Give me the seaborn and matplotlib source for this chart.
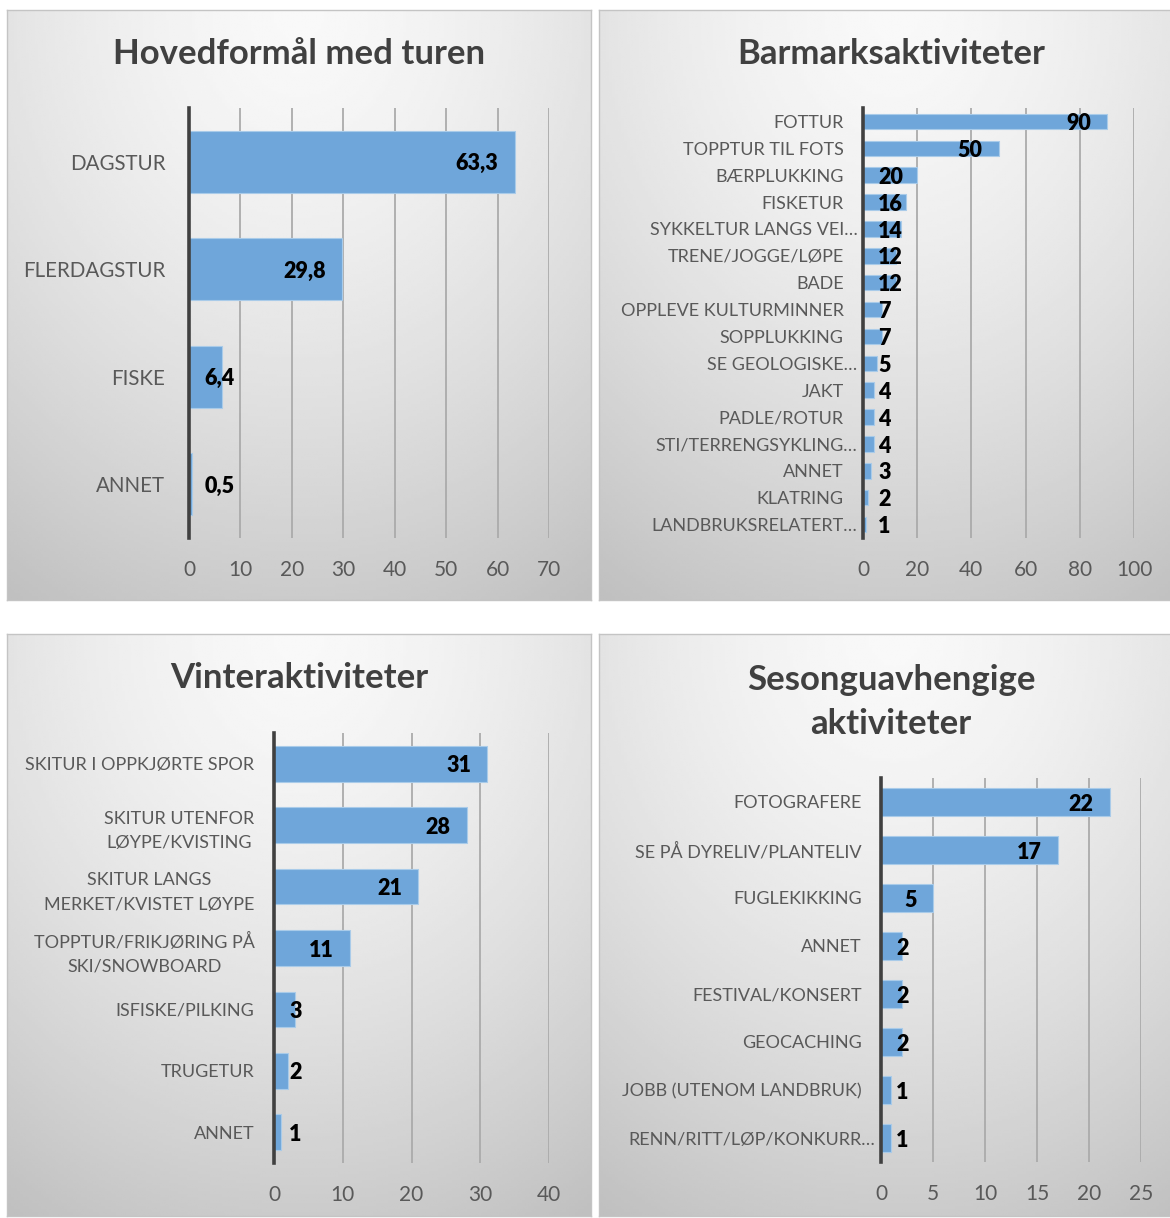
import numpy as np
import pandas as pd
import matplotlib
matplotlib.use("Agg")
import matplotlib.pyplot as plt
import matplotlib.transforms as mtransforms
import seaborn as sns

# ============================================================================
# DATA
# ============================================================================

hoved_cats = ["DAGSTUR", "FLERDAGSTUR", "FISKE", "ANNET"]
hoved_vals = [63.3, 29.8, 6.4, 0.5]

barmark_cats = ["FOTTUR", "TOPPTUR TIL FOTS", "BÆRPLUKKING", "FISKETUR",
                "SYKKELTUR LANGS VEI…", "TRENE/JOGGE/LØPE", "BADE",
                "OPPLEVE KULTURMINNER", "SOPPLUKKING", "SE GEOLOGISKE…",
                "JAKT", "PADLE/ROTUR", "STI/TERRENGSYKLING…", "ANNET",
                "KLATRING", "LANDBRUKSRELATERT…"]
barmark_vals = [90, 50, 20, 16, 14, 12, 12, 7, 7, 5, 4, 4, 4, 3, 2, 1]

vinter_cats = ["SKITUR I OPPKJØRTE SPOR", "SKITUR UTENFOR\nLØYPE/KVISTING",
               "SKITUR LANGS\nMERKET/KVISTET LØYPE",
               "TOPPTUR/FRIKJØRING PÅ\nSKI/SNOWBOARD", "ISFISKE/PILKING",
               "TRUGETUR", "ANNET"]
vinter_vals = [31, 28, 21, 11, 3, 2, 1]

sesong_cats = ["FOTOGRAFERE", "SE PÅ DYRELIV/PLANTELIV", "FUGLEKIKKING",
               "ANNET", "FESTIVAL/KONSERT", "GEOCACHING",
               "JOBB (UTENOM LANDBRUK)", "RENN/RITT/LØP/KONKURR…"]
sesong_vals = [22, 17, 5, 2, 2, 2, 1, 1]

# ============================================================================
# STYLE
# ============================================================================

sns.set_style("white")
plt.rcParams["font.family"] = ["Lato", "DejaVu Sans"]

W, H = 1170, 1218
BAR = "#6fa6da"
GRID = "#ababab"
TXT = "#595959"

fig = plt.figure(figsize=(W / 100, H / 100), dpi=100)


def px_box(x0, y0, x1, y1):
    # pixel box (top-left origin) -> figure fraction rect
    return [x0 / W, 1 - y1 / H, (x1 - x0) / W, (y1 - y0) / H]


def panel_bg(x0, y0, x1, y1):
    bg = fig.add_axes(px_box(x0, y0, x1, y1), zorder=0)
    nx, ny = 200, 200
    xx, yy = np.meshgrid(np.linspace(-1, 1, nx), np.linspace(0, 1, ny))
    d = np.sqrt((0.6 * xx) ** 2 + yy ** 2) / 1.166
    img = 0.975 - 0.225 * np.clip(d, 0, 1) ** 1.5
    bg.imshow(img, cmap="gray", vmin=0, vmax=1, aspect="auto",
              extent=(0, 1, 0, 1), origin="upper")
    bg.set_xlim(0, 1)
    bg.set_ylim(0, 1)
    bg.set_xticks([])
    bg.set_yticks([])
    for s in bg.spines.values():
        s.set_color("#c4c4c4")
        s.set_linewidth(1)


panel_bg(7, 10, 591, 600)
panel_bg(599, 10, 1190, 600)
panel_bg(7, 634, 591, 1216)
panel_bg(599, 634, 1190, 1216)


def bar_panel(box, cats, vals, xmax, step, fmt, ysize=13, ypad=14):
    ax = fig.add_axes(px_box(*box), zorder=2)
    ax.patch.set_alpha(0)
    df = pd.DataFrame({"cat": cats, "val": vals})
    sns.barplot(data=df, x="val", y="cat", orient="h", color=BAR,
                saturation=1, width=0.58, edgecolor="#a9cbe9",
                linewidth=0.8, ax=ax, zorder=3)
    ax.set_xlim(0, xmax)
    ax.set_xticks(np.arange(0, xmax + step / 2, step))
    ax.xaxis.grid(True, color=GRID, lw=1.3, zorder=0)
    ax.set_axisbelow(True)
    ax.set_xlabel("")
    ax.set_ylabel("")
    sns.despine(ax=ax, top=True, right=True, bottom=True, left=False)
    ax.spines["left"].set_color("#404040")
    ax.spines["left"].set_linewidth(2.6)
    ax.spines["left"].set_zorder(5)
    ax.tick_params(axis="both", length=0, labelcolor=TXT)
    ax.tick_params(axis="x", pad=16, labelsize=15)
    ax.tick_params(axis="y", pad=ypad, labelsize=ysize)
    # truncated labels hang their ellipsis past the right edge
    shift = mtransforms.ScaledTranslation(10 / 72, 0, fig.dpi_scale_trans)
    for t in ax.get_yticklabels():
        t.set_multialignment("center")
        t.set_linespacing(1.65)
        if t.get_text().endswith("…"):
            t.set_transform(t.get_transform() + shift)

    # value labels: inside end, or next to axis when bar too short
    renderer = fig.canvas.get_renderer()
    x_axis_px = ax.transData.transform((0, 0))[0]
    for i, v in enumerate(vals):
        t = ax.annotate(fmt(v), xy=(v, i), xytext=(-11.5, -1.5),
                        textcoords="offset points", ha="right", va="center",
                        fontsize=15.5, fontweight="heavy", color="black",
                        zorder=6)
        bb = t.get_window_extent(renderer)
        if bb.x0 < x_axis_px + 15:
            t.xy = (0, i)
            t.set_position((11, -1.5))
            t.set_ha("left")
    return ax


bar_panel((189, 108, 549, 538), hoved_cats, hoved_vals, 70, 10,
          lambda v: f"{v:.1f}".replace(".", ","), ysize=14.8, ypad=17)
bar_panel((863, 108, 1134, 538), barmark_cats, barmark_vals, 100, 20,
          lambda v: f"{v:d}")
bar_panel((274, 733, 549, 1163), vinter_cats, vinter_vals, 40, 10,
          lambda v: f"{v:d}")
bar_panel((881, 778, 1141, 1162), sesong_cats, sesong_vals, 25, 5,
          lambda v: f"{v:d}")

# Titles
title_kw = dict(fontsize=25, fontweight="bold", color="#404040",
                ha="center", va="center", zorder=10)
fig.text(299 / W, 1 - 54 / H, "Hovedformål med turen", **title_kw)
fig.text(891 / W, 1 - 54 / H, "Barmarksaktiviteter", **title_kw)
fig.text(299 / W, 1 - 678 / H, "Vinteraktiviteter", **title_kw)
fig.text(891 / W, 1 - 702 / H, "Sesonguavhengige\naktiviteter",
         linespacing=1.5, **title_kw)

fig.savefig("out.png", dpi=100)
